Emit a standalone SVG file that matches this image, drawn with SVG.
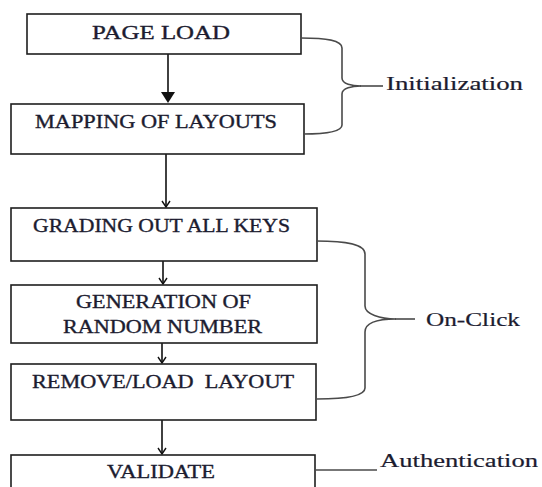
<svg xmlns="http://www.w3.org/2000/svg" width="542" height="487" viewBox="0 0 542 487">
  <style>
    .box { fill: #ffffff; stroke: #1e1e1e; stroke-width: 1.6; }
    .lbl { font-family: "Liberation Serif", "Times New Roman", serif; font-size: 18.5px; fill: #1c1c30; stroke: #1c1c30; stroke-width: 0.35; text-anchor: middle; white-space: pre; }
    .side { font-family: "Liberation Serif", "Times New Roman", serif; font-size: 19.5px; fill: #1c1c30; stroke: #1c1c30; stroke-width: 0.2; }
    .flow { stroke: #111111; stroke-width: 1.6; fill: none; }
    .brace { stroke: #4a4a4a; stroke-width: 1.6; fill: none; }
  </style>
  <defs>
    <marker id="openHead" markerWidth="10" markerHeight="8" refX="5" refY="7" markerUnits="userSpaceOnUse" viewBox="0 0 10 8">
      <path d="M1,1 L5,7 L9,1" fill="none" stroke="#111111" stroke-width="1.4"/>
    </marker>
  </defs>

  <rect width="542" height="487" fill="#ffffff"/>

  <!-- connectors between the steps -->
  <g id="connectors">
    <line class="flow" x1="168" y1="54" x2="168" y2="93"/>
    <path d="M161,92 L175,92 L168,103 Z" fill="#111111"/>
    <line class="flow" x1="166" y1="154" x2="166" y2="207" marker-end="url(#openHead)"/>
    <line class="flow" x1="163" y1="261" x2="163" y2="284" marker-end="url(#openHead)"/>
    <line class="flow" x1="162" y1="343" x2="162" y2="363" marker-end="url(#openHead)"/>
    <line class="flow" x1="162" y1="420" x2="162" y2="454" marker-end="url(#openHead)"/>
  </g>

  <!-- process steps -->
  <g id="page-load">
    <rect class="box" x="27" y="14" width="274" height="40"/>
    <text class="lbl" x="161" y="39" textLength="138" lengthAdjust="spacingAndGlyphs">PAGE LOAD</text>
  </g>
  <g id="mapping-of-layouts">
    <rect class="box" x="11" y="104" width="293" height="50"/>
    <text class="lbl" x="156" y="128" textLength="242" lengthAdjust="spacingAndGlyphs">MAPPING OF LAYOUTS</text>
  </g>
  <g id="grading-out-all-keys">
    <rect class="box" x="11" y="208" width="306" height="53"/>
    <text class="lbl" x="161.5" y="232" textLength="257" lengthAdjust="spacingAndGlyphs">GRADING OUT ALL KEYS</text>
  </g>
  <g id="generation-of-random-number">
    <rect class="box" x="11" y="285" width="306" height="58"/>
    <text class="lbl" x="163.5" y="308" textLength="175" lengthAdjust="spacingAndGlyphs">GENERATION OF</text>
    <text class="lbl" x="162.5" y="333" textLength="199" lengthAdjust="spacingAndGlyphs">RANDOM NUMBER</text>
  </g>
  <g id="remove-load-layout">
    <rect class="box" x="11" y="364" width="305" height="56"/>
    <text class="lbl" x="163" y="388" textLength="262" lengthAdjust="spacingAndGlyphs">REMOVE/LOAD  LAYOUT</text>
  </g>
  <g id="validate">
    <rect class="box" x="11" y="455" width="304" height="40"/>
    <text class="lbl" x="161" y="478" textLength="108" lengthAdjust="spacingAndGlyphs">VALIDATE</text>
  </g>

  <!-- phase groupings -->
  <g id="initialization">
    <path class="brace" d="M301,38 C326,38 342,40 342,48 L342,78 C342,84 352,86 361,86 C352,86 342,88 342,94 L342,125 C342,132 326,134 303,134"/>
    <line class="brace" x1="360" y1="86" x2="383" y2="86"/>
    <text class="side" x="386" y="90" textLength="137" lengthAdjust="spacingAndGlyphs">Initialization</text>
  </g>
  <g id="on-click">
    <path class="brace" d="M316,241 C346,241 365,244 365,254 L365,306 C365,314 380,319 396,319 C380,319 365,322 365,332 L365,388 C365,396 346,399 317,399"/>
    <line class="brace" x1="395" y1="319" x2="415" y2="319"/>
    <text class="side" x="426" y="326" textLength="94" lengthAdjust="spacingAndGlyphs">On-Click</text>
  </g>
  <g id="authentication">
    <line class="brace" x1="315" y1="470" x2="377" y2="470"/>
    <text class="side" x="380" y="467" textLength="158" lengthAdjust="spacingAndGlyphs">Authentication</text>
  </g>
</svg>
